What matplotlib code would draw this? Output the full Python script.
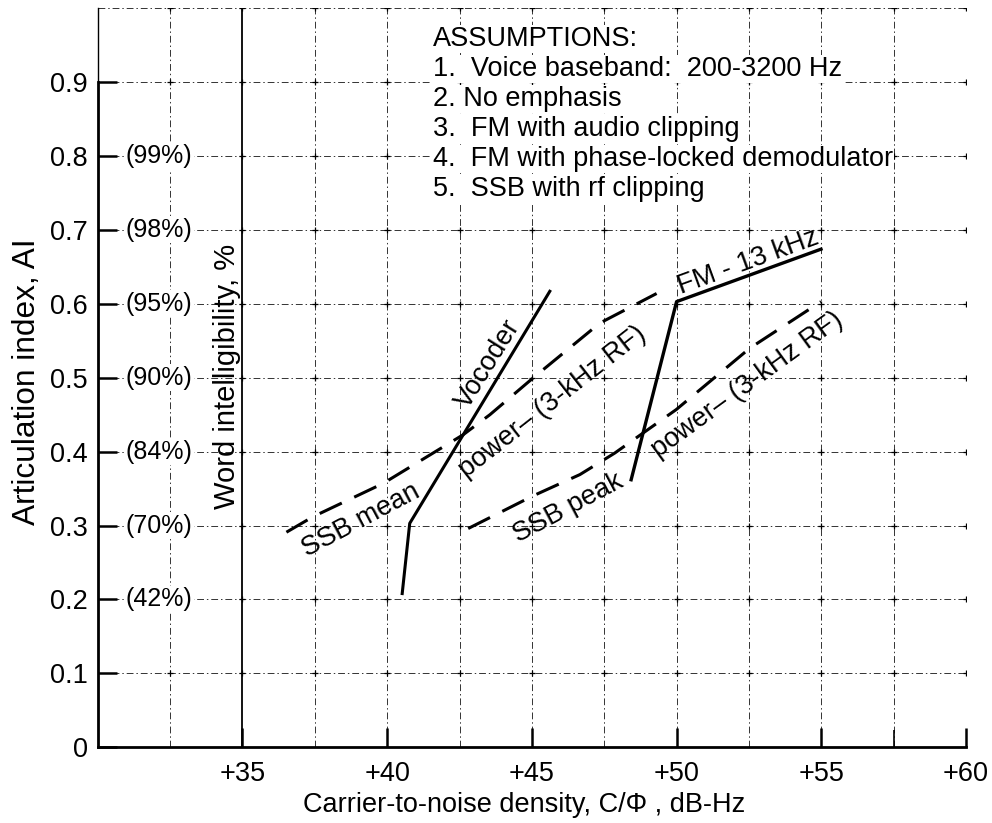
import matplotlib
matplotlib.use("Agg")
import matplotlib.pyplot as plt
import numpy as np

plt.rcParams['font.family'] = ['Liberation Sans', 'DejaVu Sans']

# Curve data: carrier-to-noise density (dB-Hz) vs articulation index
vocoder_x = [40.52, 40.78, 45.62]
vocoder_y = [0.208, 0.303, 0.617]

ssb_mean_x = [36.52, 37.44, 39.86, 42.63, 43.55, 45.05, 47.35, 49.31]
ssb_mean_y = [0.291, 0.312, 0.357, 0.423, 0.450, 0.500, 0.574, 0.614]

ssb_peak_x = [42.80, 45.03, 46.66, 47.86, 49.99, 52.53, 54.99]
ssb_peak_y = [0.296, 0.340, 0.369, 0.398, 0.457, 0.540, 0.603]

fm_x = [48.43, 50.00, 54.99]
fm_y = [0.362, 0.603, 0.674]

# Axis ticks
x_ticks = [35, 40, 45, 50, 55, 60]
x_tick_labels = ['+35', '+40', '+45', '+50', '+55', '+60']
y_ticks = [0, 0.1, 0.2, 0.3, 0.4, 0.5, 0.6, 0.7, 0.8, 0.9]
y_tick_labels = ['0', '0.1', '0.2', '0.3', '0.4', '0.5', '0.6', '0.7', '0.8', '0.9']

# Word intelligibility corresponding to articulation index
wi_ai = [0.2, 0.3, 0.4, 0.5, 0.6, 0.7, 0.8]
wi_labels = ['(42%)', '(70%)', '(84%)', '(90%)', '(95%)', '(98%)', '(99%)']

assumptions = [
    'ASSUMPTIONS:',
    '1.  Voice baseband:  200-3200 Hz',
    '2. No emphasis',
    '3.  FM with audio clipping',
    '4.  FM with phase-locked demodulator',
    '5.  SSB with rf clipping',
]

FS = 19.5

fig = plt.figure(figsize=(9.92, 8.23), dpi=100)
ax = fig.add_axes([0.0985, 0.092, 0.8753, 0.898])
ax.set_xlim(30, 60)
ax.set_ylim(0, 1.0)

# Grid: dash-dot lines every 2.5 dB and every 0.1 AI
grid_kw = dict(color='#333333', lw=0.7, linestyle=(0, (7, 3, 1.5, 3)), zorder=1)
for gx in np.arange(32.5, 60.01, 2.5):
    if gx == 35:
        ax.axvline(gx, color='black', lw=1.3, zorder=1)
    else:
        ax.axvline(gx, **grid_kw)
for gy in np.arange(0.1, 1.001, 0.1):
    ax.axhline(gy, **grid_kw)
gxx, gyy = np.meshgrid(np.arange(32.5, 60.01, 2.5), np.arange(0.1, 1.001, 0.1))
ax.scatter(gxx.ravel(), gyy.ravel(), marker='+', s=18, lw=0.9, color='black', zorder=2)

# Curves
ax.plot(vocoder_x, vocoder_y, color='black', lw=2.2, zorder=3)
ax.plot(fm_x, fm_y, color='black', lw=2.4, zorder=3)
ax.plot(ssb_mean_x, ssb_mean_y, color='black', lw=2.2, dashes=(8, 4.5), zorder=3)
ax.plot(ssb_peak_x, ssb_peak_y, color='black', lw=2.2, dashes=(8, 4.5), zorder=3)

# Spines and ticks
for s in ['top', 'right']:
    ax.spines[s].set_visible(False)
ax.spines['left'].set_bounds(0, 0.9)
ax.spines['left'].set_linewidth(2.0)
ax.spines['bottom'].set_linewidth(2.0)
ax.plot([30, 30], [0.9, 1.0], color='black', lw=1.0, clip_on=False, zorder=2)

ax.set_xticks(x_ticks)
ax.set_xticklabels(x_tick_labels, fontsize=FS)
ax.set_xticks([57.5], minor=True)
ax.set_yticks(y_ticks)
ax.set_yticklabels(y_tick_labels, fontsize=FS)
ax.tick_params(axis='x', which='major', direction='in', length=14, width=1.8, pad=10)
ax.tick_params(axis='x', which='minor', direction='in', length=12, width=1.2)
ax.tick_params(axis='y', direction='in', length=14, width=1.8, pad=7)

# Axis titles
fig.text(524.5 / 992, 1 - 805 / 823, 'Carrier-to-noise density, C/\u03a6 , dB-Hz',
         fontsize=FS, ha='center', va='center')
fig.text(27 / 992, 1 - 382 / 823, 'Articulation index, AI', fontsize=22.8,
         rotation=90, ha='center', va='center')

for yv, lab in zip(wi_ai, wi_labels):
    ax.text(30.97, yv, lab, fontsize=18, va='center', ha='left', zorder=4,
            bbox=dict(facecolor='white', edgecolor='none', pad=1.0))

ax.text(34.45, 0.502, 'Word intelligibility, %', rotation=90, fontsize=21,
        ha='center', va='center', zorder=4)

# Assumptions block
for i, line in enumerate(assumptions):
    ax.text(41.58, 0.958 - i * 0.0406, line, fontsize=FS, ha='left', va='center', zorder=4,
            bbox=dict(facecolor='white', edgecolor='none', pad=0.5))

# Curve labels
lab_kw = dict(fontsize=FS, ha='center', va='center', zorder=4,
              rotation_mode='anchor')
ax.text(43.50, 0.519, 'Vocoder', rotation=58, **lab_kw)
ax.text(45.73, 0.467, 'power\u2013 (3-kHz RF)', rotation=38, **lab_kw)
ax.text(39.09, 0.307, 'SSB mean', rotation=28, **lab_kw)
ax.text(46.24, 0.323, 'SSB peak', rotation=28, **lab_kw)
ax.text(52.44, 0.490, 'power\u2013 (3-kHz RF)', rotation=36, **lab_kw)
ax.text(52.47, 0.657, 'FM - 13 kHz', rotation=20, **lab_kw)

fig.savefig('out.png', dpi=100)
